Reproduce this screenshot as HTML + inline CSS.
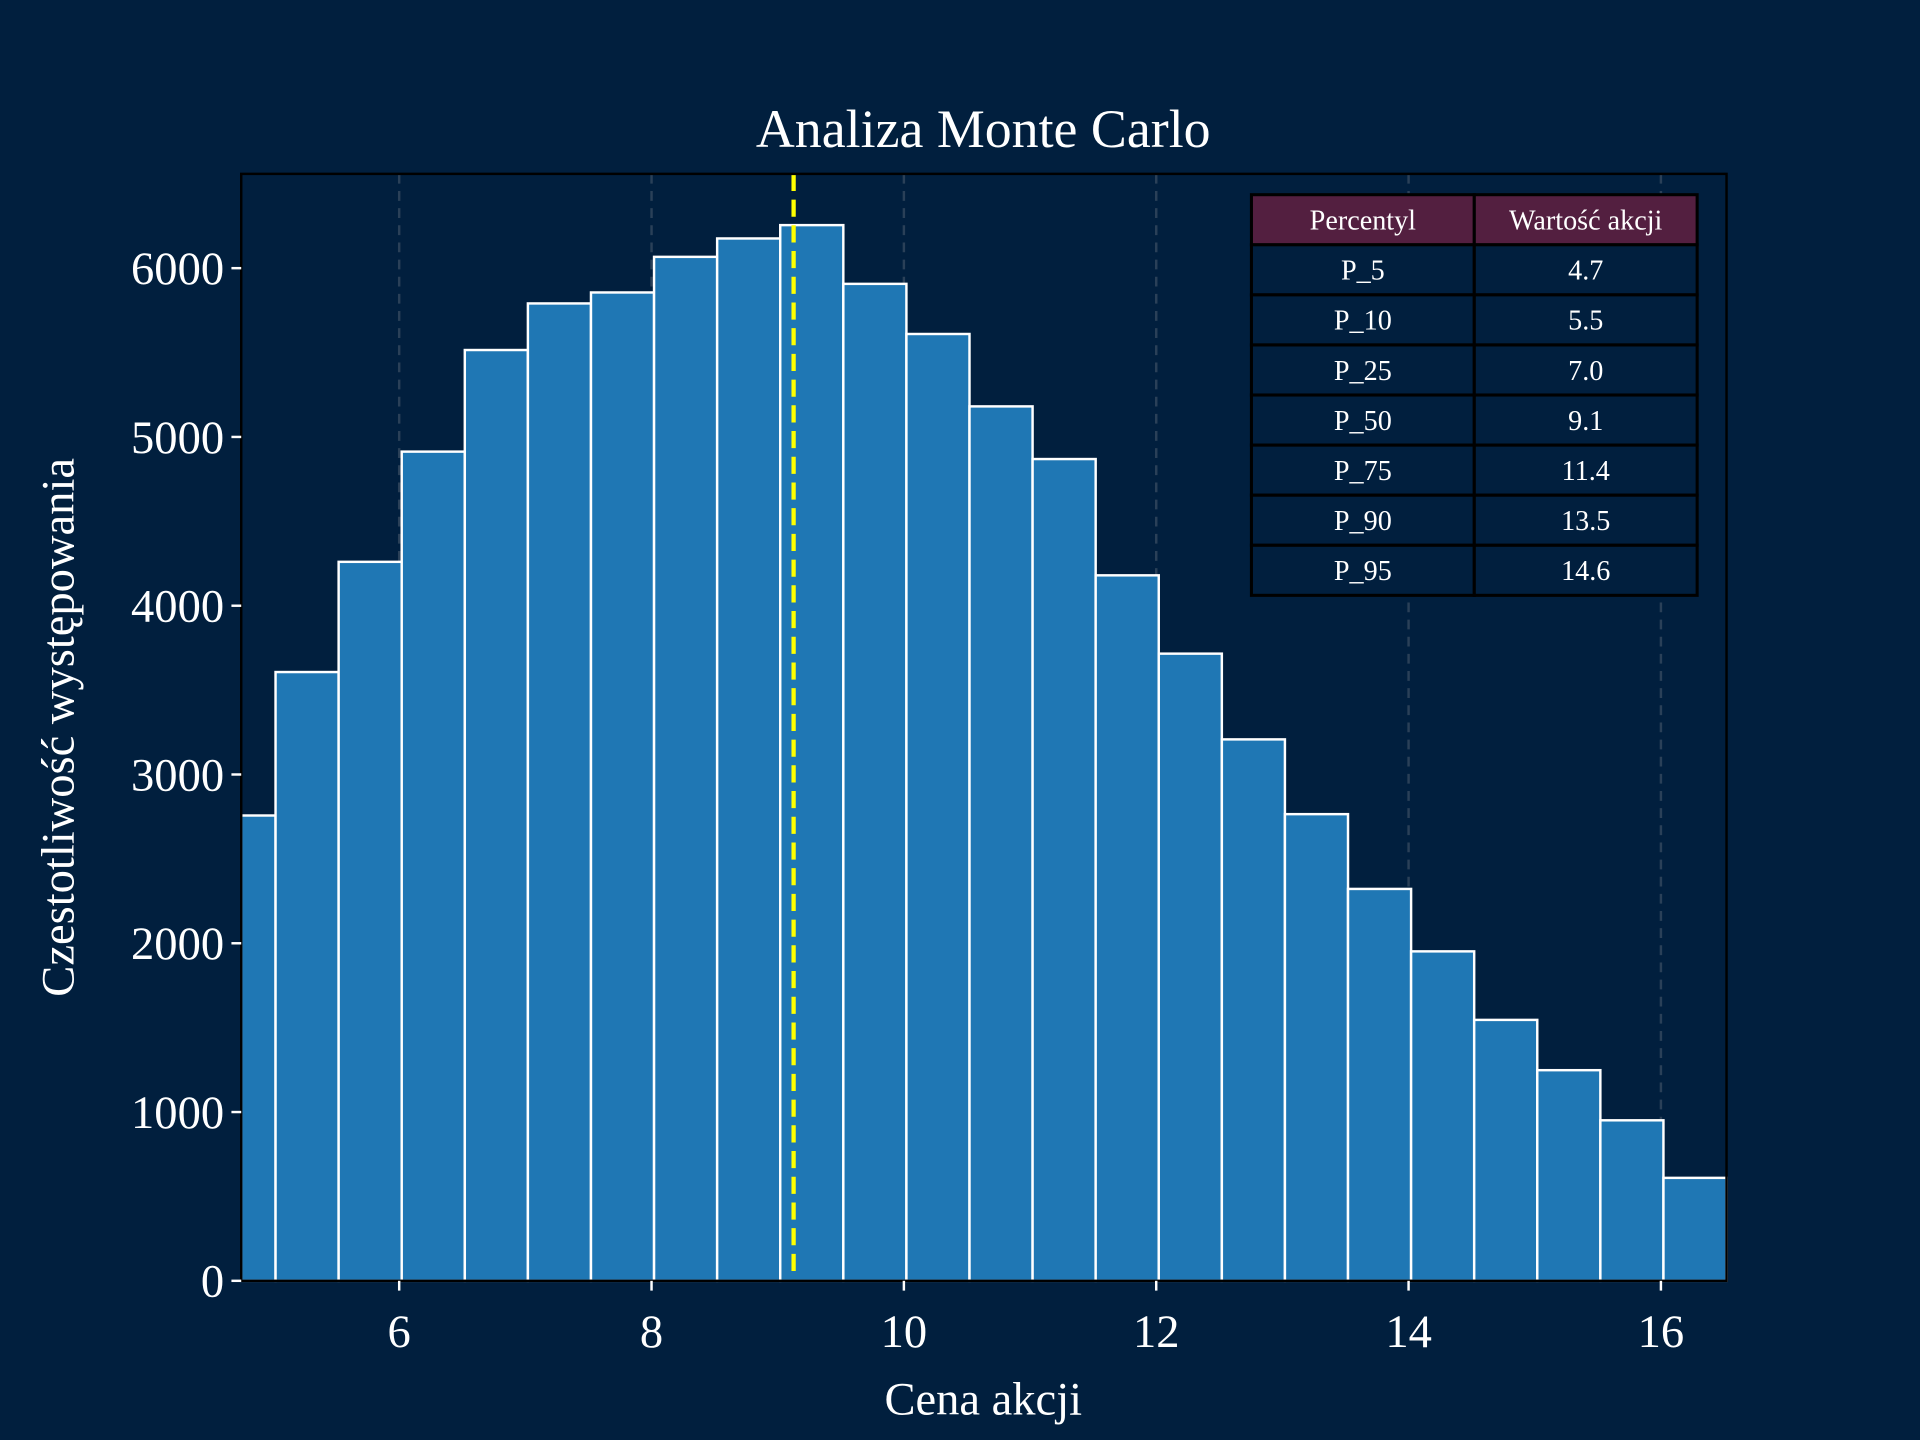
<!DOCTYPE html>
<html><head><meta charset="utf-8"><style>
html,body{margin:0;padding:0;background:#011f3e;}
svg{display:block;font-family:"Liberation Serif",serif;}
</style></head><body>
<svg id="chart" width="1920" height="1440" viewBox="0 0 1568 1176" xmlns="http://www.w3.org/2000/svg">
<rect x="0" y="0" width="1568" height="1176" fill="#011f3e"/>
<g id="grid"></g>
<g id="bars"></g>
<g id="median"></g>
<rect x="197" y="142" width="1213" height="904" fill="none" stroke="#000" stroke-width="2"/>
<g id="xticks"></g>
<g id="yticks"></g>
<text x="803" y="120" fill="#fff" font-size="44" text-anchor="middle">Analiza Monte Carlo</text>
<text x="803" y="1155" fill="#fff" font-size="38" text-anchor="middle">Cena akcji</text>
<text transform="translate(60,594) rotate(-90)" fill="#fff" font-size="38" text-anchor="middle">Czestotliwość występowania</text>
<g id="table"></g>
</svg>
<script>
const binStart = 4.52;
const binWidth = 0.5;
const counts = [2757,3607,4260,4913,5515,5791,5856,6067,6176,6255,5907,5610,5181,4869,4180,3716,3208,2765,2322,1952,1546,1248,951,610];
const xTicks = [6,8,10,12,14,16];
const yTicks = [0,1000,2000,3000,4000,5000,6000];
const medianValue = 9.126;
const pctNames = ["P_5","P_10","P_25","P_50","P_75","P_90","P_95"];
const pctValues = ["4.7","5.5","7.0","9.1","11.4","13.5","14.6"];

const L=197,R=1410,T=142,B=1046,xmin=4.748,xmax=16.52;
const X=v=>L+(v-xmin)/(xmax-xmin)*(R-L);
const Y=v=>B-v/6000*(B-219);
const NS="http://www.w3.org/2000/svg";
function mk(tag,attrs,parent){const e=document.createElementNS(NS,tag);for(const k in attrs)e.setAttribute(k,attrs[k]);parent.appendChild(e);return e;}
const grid=document.getElementById('grid'),bars=document.getElementById('bars');
xTicks.forEach(t=>{const l=mk('line',{x1:X(t),x2:X(t),y1:T,y2:B,stroke:'#2a4058','stroke-width':2,'stroke-dasharray':'8,6'},grid);

});
counts.forEach((c,i)=>{let x0=Math.max(X(binStart+i*binWidth),L),x1=Math.min(X(binStart+(i+1)*binWidth),R);
const r=mk('rect',{x:x0,y:Y(c),width:x1-x0,height:B-Y(c),fill:'#1f77b4',stroke:'#fff','stroke-width':2},bars);

});
const ml=mk('line',{x1:X(medianValue),x2:X(medianValue),y1:T,y2:B,stroke:'#ffff00','stroke-width':3.5,'stroke-dasharray':'14,7'},document.getElementById('median'));


const xt=document.getElementById('xticks');
xTicks.forEach(t=>{mk('line',{x1:X(t),x2:X(t),y1:B,y2:B+8,stroke:'#fff','stroke-width':2},xt);
const tx=mk('text',{x:X(t),y:B+54,fill:'#fff','font-size':38,'text-anchor':'middle'},xt);tx.textContent=t;

});
const yt=document.getElementById('yticks');
yTicks.forEach(t=>{mk('line',{x1:L-8,x2:L,y1:Y(t),y2:Y(t),stroke:'#fff','stroke-width':2},yt);
const tx=mk('text',{x:L-14,y:Y(t)+13,fill:'#fff','font-size':38,'text-anchor':'end'},yt);tx.textContent=t;

});
const tb=document.getElementById('table');
const tx0=1022,tx1=1204,tx2=1386,ty0=159,rh=40.9;
const rows=[["Percentyl","Wartość akcji"]].concat(pctNames.map((n,i)=>[n,pctValues[i]]));
rows.forEach((r,i)=>{const y=ty0+i*rh;const fill=i==0?'#531f40':'#011f3e';
[[tx0,tx1],[tx1,tx2]].forEach((c,j)=>{const cell=mk('rect',{x:c[0],y:y,width:c[1]-c[0],height:rh,fill:fill,stroke:'#000','stroke-width':2.5},tb);


const t=mk('text',{x:(c[0]+c[1])/2,y:y+rh/2+8,fill:'#fff','font-size':23,'text-anchor':'middle'},tb);t.textContent=r[j];

});});
</script>
</body></html>
